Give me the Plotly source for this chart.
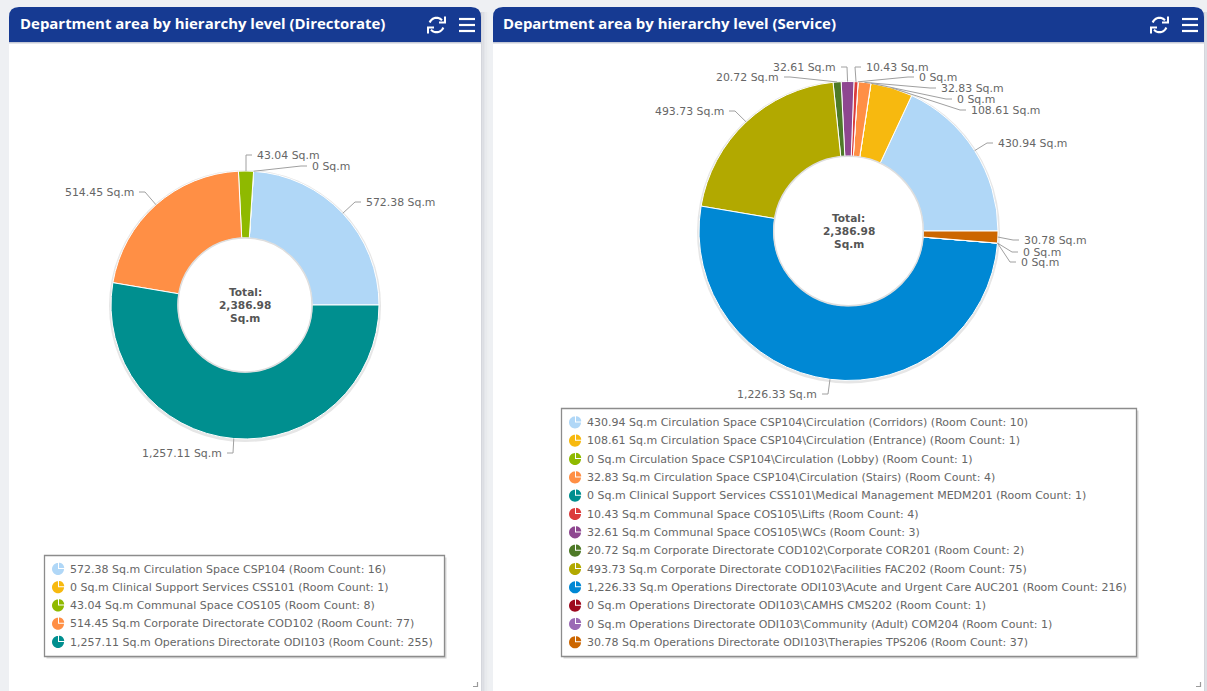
import math
import plotly.graph_objects as go

UNIT = "Sq.m"
TOTAL_LINES = ["Total:", "2,386.98", "Sq.m"]
TITLE_A = "Department area by hierarchy level (Directorate)"
TITLE_B = "Department area by hierarchy level (Service)"

names_a = ["Circulation Space CSP104", "Clinical Support Services CSS101", "Communal Space COS105",
           "Corporate Directorate COD102", "Operations Directorate ODI103"]
values_a = [572.38, 0, 43.04, 514.45, 1257.11]
rooms_a = [16, 1, 8, 77, 255]
colors_a = ["#b0d7f7", "#f7b90f", "#8fb900", "#ff8f45", "#008f8f"]

names_b = ["Circulation Space CSP104\\Circulation (Corridors)", "Circulation Space CSP104\\Circulation (Entrance)",
           "Circulation Space CSP104\\Circulation (Lobby)", "Circulation Space CSP104\\Circulation (Stairs)",
           "Clinical Support Services CSS101\\Medical Management MEDM201", "Communal Space COS105\\Lifts",
           "Communal Space COS105\\WCs", "Corporate Directorate COD102\\Corporate COR201",
           "Corporate Directorate COD102\\Facilities FAC202",
           "Operations Directorate ODI103\\Acute and Urgent Care AUC201",
           "Operations Directorate ODI103\\CAMHS CMS202", "Operations Directorate ODI103\\Community (Adult) COM204",
           "Operations Directorate ODI103\\Therapies TPS206"]
values_b = [430.94, 108.61, 0, 32.83, 0, 10.43, 32.61, 20.72, 493.73, 1226.33, 0, 0, 30.78]
rooms_b = [10, 1, 1, 4, 1, 4, 3, 2, 75, 216, 1, 1, 37]
colors_b = ["#b0d7f7", "#f7b90f", "#8fb900", "#ff8f45", "#008f8f", "#dc3c3c", "#8e4790", "#4e7a27",
            "#b2a900", "#0088d4", "#9e0a1f", "#9b6bb5", "#cc6600"]

# layout constants (pixels)
W, H = 1207, 691
PIE_A = dict(cx=245, cy=305, r=134)
PIE_B = dict(cx=848.5, cy=231, r=149.5)
HOLE = 0.5
LABELS_A = [(366, 202, "left"), (312, 166, "left"), (257, 155, "left"), (134, 192, "right"), (222, 453, "right")]
LABELS_B = [(998, 143, "left"), (971, 110, "left"), (957, 99, "left"), (941, 88, "left"), (919, 77, "left"),
            (866, 67, "left"), (836, 67, "right"), (779, 77, "right"), (724, 111, "right"), (817, 394, "right"),
            (1021, 262, "left"), (1023, 252, "left"), (1024, 240, "left")]
LEG_A = dict(x0=44.5, x1=444.5, y0=555.5, y1=656.5, icon=58, text=70, first=569, step=18.25)
LEG_B = dict(x0=561.5, x1=1136.5, y0=408.5, y1=656.5, icon=575, text=587, first=422.4, step=18.33)
FONT = "DejaVu Sans"
TXT = "#666666"
NAVY = "#163a92"
PAD = 2  # plotly's annotation padding


def fmt(v):
    return "0" if v == 0 else f"{v:,.2f}"


fig = go.Figure()
shapes, notes = [], []


def rect(x0, y0, x1, y1, fill, layer="below"):
    shapes.append(dict(type="rect", xref="x", yref="y", x0=x0, y0=y0, x1=x1, y1=y1,
                       fillcolor=fill, line=dict(width=0), layer=layer))


def path(d, fill=None, line=None, width=1, layer="above"):
    shapes.append(dict(type="path", xref="x", yref="y", path=d, fillcolor=fill or "rgba(0,0,0,0)",
                       line=dict(color=line or "rgba(0,0,0,0)", width=width if line else 0), layer=layer))


def text(x, y, s, anchor="left", size=11, color=TXT, bold=False, family=FONT):
    x = x - PAD if anchor == "left" else (x + PAD if anchor == "right" else x)
    notes.append(dict(xref="x", yref="y", x=x, y=y, text=f"<b>{s}</b>" if bold else s, showarrow=False,
                      xanchor=anchor, yanchor="middle", align="center",
                      font=dict(family=family, size=size, color=color)))


def arc_pts(cx, cy, r, a0, a1, n=24):
    # angles clockwise from north, degrees
    return [(cx + r * math.sin(math.radians(a0 + (a1 - a0) * i / n)),
             cy - r * math.cos(math.radians(a0 + (a1 - a0) * i / n))) for i in range(n + 1)]


def poly(pts, close=False):
    d = "M " + " L ".join(f"{x:.2f},{y:.2f}" for x, y in pts)
    return d + (" Z" if close else "")


def panel(x0, x1, title, title_x):
    for i, c in enumerate(["#d4d6dc", "#dcdee3", "#e3e5e9", "#e8eaed", "#eceef0"]):
        rect(x1 + i * 1.5, 12, x1 + (i + 1) * 1.5, H, c)
    rect(x0, 30, x1, H, "#ffffff")
    rect(x0, 42, x1, 43.5, "#c6cad6")
    r = 10
    d = f"M {x0},42 L {x0},{7 + r} Q {x0},7 {x0 + r},7 L {x1 - r},7 Q {x1},7 {x1},{7 + r} L {x1},42 Z"
    path(d, fill=NAVY, layer="below")
    text(title_x, 23, title, size=14.95, color="#ffffff", bold=True, family="Open Sans")
    # refresh and menu icons
    rx, ry = x1 - 45 + 0.5, 25
    path(poly(arc_pts(rx, ry, 7.2, -70, 50)), line="#ffffff", width=2.2)
    path(poly(arc_pts(rx, ry, 7.2, 110, 230)), line="#ffffff", width=2.2)
    path(poly([(rx + 8.5, ry - 8.5), (rx + 8.5, ry - 2.5), (rx + 2.5, ry - 2.5)]), line="#ffffff", width=2)
    path(poly([(rx - 8.5, ry + 8.5), (rx - 8.5, ry + 2.5), (rx - 2.5, ry + 2.5)]), line="#ffffff", width=2)
    for y in (19, 25, 31):
        path(poly([(x1 - 22, y), (x1 - 6, y)]), line="#ffffff", width=2.2)
    # resize handle
    path(poly([(x1 - 8, H - 4.5), (x1 - 3.5, H - 4.5), (x1 - 3.5, H - 9)]), line="#9a9a9a", width=1.2)


def donut(values, colors, pie, labels, names, rooms, leg):
    cx, cy, r = pie["cx"], pie["cy"], pie["r"]
    total = sum(values)
    shapes.append(dict(type="circle", xref="x", yref="y", x0=cx - r - 2, x1=cx + r + 2, y0=cy - r - 1, y1=cy + r + 3,
                       fillcolor="#e6e6e6", line=dict(width=0), layer="below"))
    hr = r * HOLE
    shapes.append(dict(type="circle", xref="x", yref="y", x0=cx - hr, x1=cx + hr, y0=cy - hr, y1=cy + hr,
                       fillcolor="#ffffff", line=dict(width=0), layer="below"))
    # plotly's counterclockwise pie places the first slice clockwise of `rotation`,
    # so the first slice has to be subtracted to start it at three o'clock
    fig.add_trace(go.Pie(values=values, marker=dict(colors=colors, line=dict(color="#ffffff", width=1)),
                         hole=HOLE, sort=False, direction="counterclockwise",
                         rotation=90 - values[0] / total * 360,
                         textinfo="none", hoverinfo="skip", showlegend=False,
                         domain=dict(x=[(cx - r) / W, (cx + r) / W], y=[1 - (cy + r) / H, 1 - (cy - r) / H])))
    shapes.append(dict(type="circle", xref="x", yref="y", x0=cx - hr, x1=cx + hr, y0=cy - hr, y1=cy + hr,
                       fillcolor="rgba(0,0,0,0)", line=dict(color="#dedede", width=1.5), layer="above"))
    for k, line in enumerate(TOTAL_LINES):
        text(cx, cy - 13 + k * 13 - 0.5, line, anchor="center", size=10.6, color="#555555", bold=True)
    # leader lines and labels
    ang = 90.0
    for v, (tx, ty, side) in zip(values, labels):
        mid = ang - v / total * 180
        ang -= v / total * 360
        sx = cx + r * math.sin(math.radians(mid))
        sy = cy - r * math.cos(math.radians(mid))
        sgn = 1 if side == "left" else -1
        end = tx - sgn * 5
        elbow = end - sgn * 6
        path(poly([(sx, sy), (elbow, ty), (end, ty)]), line="#a0a0a0", width=1)
        text(tx, ty + 0.5, f"{fmt(v)} {UNIT}", anchor=side, size=10.9)
    # legend box
    rect(leg["x0"] + 2, leg["y0"] + 2, leg["x1"] + 2, leg["y1"] + 2, "#d8d8d8")
    shapes.append(dict(type="rect", xref="x", yref="y", x0=leg["x0"], y0=leg["y0"], x1=leg["x1"], y1=leg["y1"],
                       fillcolor="#ffffff", line=dict(color="#8c8c8c", width=1.3), layer="below"))
    for i, (v, n, c, col) in enumerate(zip(values, names, rooms, colors)):
        y = leg["first"] + i * leg["step"]
        ix = leg["icon"]
        pts = [(ix, y)] + arc_pts(ix, y, 6, 90, 360)
        path(poly(pts, True), fill=col)
        pts = [(ix + 1, y - 1)] + arc_pts(ix + 1, y - 1, 5.2, 0, 90, 10)
        path(poly(pts, True), fill=col)
        text(leg["text"], y, f"{fmt(v)} {UNIT} {n} (Room Count: {c})", size=11)


panel(9, 481, TITLE_A, 20)
panel(493, 1204, TITLE_B, 503)
donut(values_a, colors_a, PIE_A, LABELS_A, names_a, rooms_a, LEG_A)
donut(values_b, colors_b, PIE_B, LABELS_B, names_b, rooms_b, LEG_B)

fig.update_layout(width=W, height=H, margin=dict(l=0, r=0, t=0, b=0), paper_bgcolor="#eef0f3",
                  plot_bgcolor="rgba(0,0,0,0)", shapes=shapes, annotations=notes,
                  xaxis=dict(range=[0, W], visible=False, fixedrange=True),
                  yaxis=dict(range=[H, 0], visible=False, fixedrange=True))
fig.write_html("out.html", config=dict(displayModeBar=False),
               post_script="document.body.style.margin='0';document.body.style.overflow='hidden';")
